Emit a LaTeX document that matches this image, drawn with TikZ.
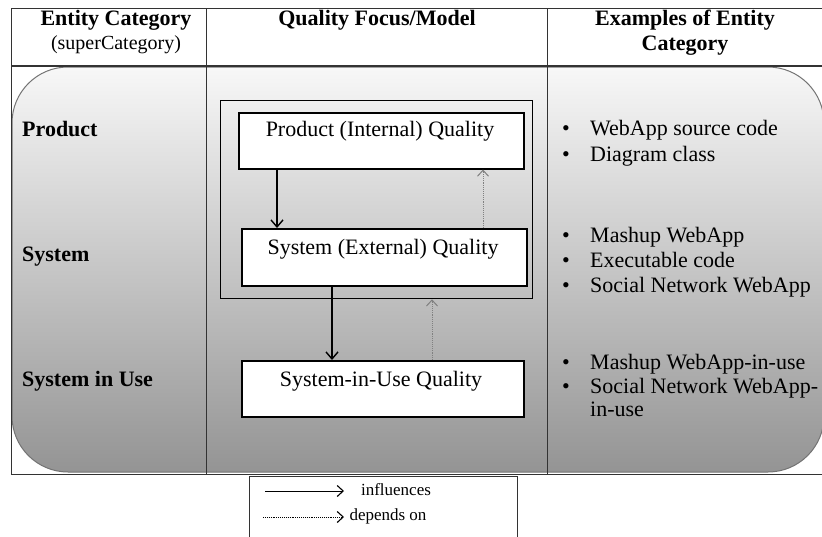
\documentclass[tikz,border=0pt]{standalone}
\usepackage{fontspec}
\setmainfont{Liberation Serif}
\usetikzlibrary{arrows.meta}
\begin{document}
\begin{tikzpicture}[x=1pt,y=1pt,
  rule/.style={draw=black!80, line width=1pt},
  fixed/.style={inner sep=0pt, text height=14pt, text depth=4pt},
  hdr/.style={fixed, font=\fontsize{22}{25}\selectfont\bfseries},
  txt/.style={fixed, font=\fontsize{22}{25}\selectfont},
  rowlabel/.style={fixed, font=\fontsize{22}{25}\selectfont\bfseries, anchor=west},
  item/.style={fixed, font=\fontsize{22}{25}\selectfont, anchor=west},
  dot/.style={fixed, font=\fontsize{22}{25}\selectfont},
  qbox/.style={draw=black, line width=1.5pt, fill=white, anchor=north west,
    minimum height=56pt, inner sep=0pt},
  frame/.style={draw=black, line width=1.3pt, anchor=north west, inner sep=0pt},
  infl/.style={-{Straight Barb[length=7pt,width=12pt,line width=1.4pt]}, line width=1.6pt, black},
  dep/.style={-{Straight Barb[length=6pt,width=11pt,line width=1pt]}, line width=0.9pt, black!50, densely dotted},
  legtxt/.style={inner sep=0pt, text height=11pt, text depth=3pt, font=\fontsize{17}{19}\selectfont},
]
\useasboundingbox (0,0) rectangle (822,-536);
\clip (0,0) rectangle (822,-536);

% shaded body of the table
\shade[top color=white!97!black, bottom color=black!42, draw=black!55, line width=1pt,
  rounded corners=56pt] (12,-67) rectangle (824,-472);

% table rules
\draw[rule] (11,-8) -- (830,-8);
\draw[rule, line width=1.6pt] (11,-66) -- (830,-66);
\draw[rule] (11,-8) -- (11,-474) -- (830,-474);
\draw[rule] (206,-8) -- (206,-474);
\draw[rule] (547,-8) -- (547,-474);

% header
\node[hdr] (h1) at (116,-20) {Entity Category};
\node[txt, font=\fontsize{20}{23}\selectfont] (h1b) at (116,-44) {(superCategory)};
\node[hdr] (h2) at (377,-20) {Quality Focus/Model};
\node[hdr] (h3) at (685,-20) {Examples of Entity};
\node[hdr] (h3b) at (685,-45) {Category};

% entity categories
\node[rowlabel] (rp) at (22,-131) {Product};
\node[rowlabel] (rs) at (22,-256) {System};
\node[rowlabel] (ru) at (22,-381) {System in Use};

% quality models
\node[frame, minimum width=312pt, minimum height=198pt] (frame) at (220,-100) {};
\node[qbox, minimum width=285pt] (pq) at (238,-112) {};
\node[txt] (pqt) at (380,-131) {Product (Internal) Quality};
\node[qbox, minimum width=285pt, minimum height=57pt] (sq) at (241,-228) {};
\node[txt] (sqt) at (383,-249) {System (External) Quality};
\node[qbox, minimum width=282pt] (uq) at (241,-360) {};
\node[txt] (uqt) at (381,-381) {System-in-Use Quality};

% relations
\draw[infl] ([xshift=39pt]pq.south west) -- ([xshift=36pt]sq.north west);
\draw[dep] ([xshift=242pt]sq.north west) -- ([xshift=245pt]pq.south west);
\draw[infl, line width=2pt] ([xshift=91pt]sq.south west) -- ([xshift=91pt]uq.north west);
\draw[dep] ([xshift=191pt]uq.north west) -- ([xshift=212pt]frame.south west);

% examples
\foreach \n/\y/\t in {e1/130/WebApp source code, e2/156/Diagram class,
  e3/237/Mashup WebApp, e4/262/Executable code, e5/287/Social Network WebApp,
  e6/364/Mashup WebApp-in-use, e7/388/Social Network WebApp-}{
  \node[dot] (b\n) at (566,-\y) {\textbullet};
  \node[item] (\n) at (590,-\y) {\t};
}
\node[item] (e8) at (590,-411) {in-use};

% legend
\node[draw=black!80, line width=1pt, anchor=north west, minimum width=268pt,
  minimum height=80pt, inner sep=0pt] (leg) at (249,-476) {};
\coordinate (l1a) at (265,-491);
\coordinate (l1b) at (344,-491);
\coordinate (l2a) at (263,-517);
\coordinate (l2b) at (344,-517);
\draw[-{Straight Barb[length=6pt,width=11pt,line width=1.1pt]}, line width=1pt] (l1a) -- (l1b);
\draw[-{Straight Barb[length=6pt,width=11pt,line width=1.1pt]}, line width=0.9pt, densely dotted] (l2a) -- (l2b);
\node[legtxt] (lt1) at (396,-491) {influences};
\node[legtxt] (lt2) at (388,-516) {depends on};
\end{tikzpicture}
\end{document}
